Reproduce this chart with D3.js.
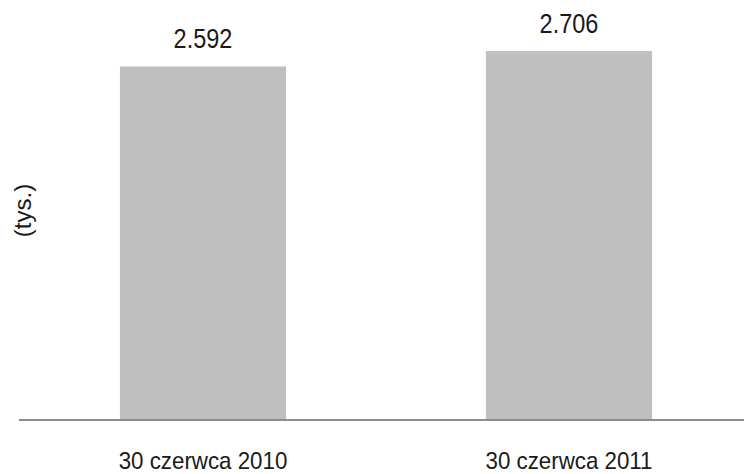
<!DOCTYPE html>
<html>
<head>
<meta charset="utf-8">
<script src="https://cdn.jsdelivr.net/npm/d3@7"></script>
<style>
  html, body { margin: 0; padding: 0; background: #fff; }
  svg { display: block; font-family: "Liberation Sans", Arial, sans-serif; }
</style>
</head>
<body>
<svg id="chart" width="744" height="474"></svg>
<script>
// Liczba (tys.) na koniec czerwca
const categories = ["30 czerwca 2010", "30 czerwca 2011"];
const values = [2.592, 2.706];
const yDomain = [0, 3];
const axisTitle = "(tys.)";

const svg = d3.select("#chart");
const baseY = 419;

const x = d3.scaleBand()
  .domain(categories)
  .range([20, 752])
  .paddingInner(0.546)
  .paddingOuter(0.273);

const y = d3.scaleLinear()
  .domain(yDomain)
  .range([baseY, 11]);

const fmt = d3.format(".3f");

// bars
svg.append("g")
  .selectAll("rect")
  .data(values)
  .join("rect")
  .attr("x", (d, i) => x(categories[i]))
  .attr("width", x.bandwidth())
  .attr("y", d => y(d))
  .attr("height", d => y(0) - y(d))
  .attr("fill", "#bfbfbf");

// baseline
svg.append("line")
  .attr("x1", 19).attr("x2", 744)
  .attr("y1", baseY + 1).attr("y2", baseY + 1)
  .attr("stroke", "#8c8c8c")
  .attr("stroke-width", 2);

// value labels
svg.append("g")
  .selectAll("text")
  .data(values)
  .join("text")
  .attr("transform", (d, i) =>
    `translate(${x(categories[i]) + x.bandwidth() / 2},${y(d) - 18}) scale(0.87,1)`)
  .attr("text-anchor", "middle")
  .attr("font-size", 27)
  .attr("fill", "#1a1a1a")
  .text(d => fmt(d));

// category labels
svg.append("g")
  .selectAll("text")
  .data(categories)
  .join("text")
  .attr("transform", d =>
    `translate(${x(d) + x.bandwidth() / 2},469) scale(0.93,1)`)
  .attr("text-anchor", "middle")
  .attr("font-size", 24)
  .attr("fill", "#1a1a1a")
  .text(d => d);

// axis title
svg.append("text")
  .attr("transform", "translate(31,210.5) rotate(-90)")
  .attr("text-anchor", "middle")
  .attr("font-size", 24)
  .attr("fill", "#1a1a1a")
  .text(axisTitle);
</script>
</body>
</html>
